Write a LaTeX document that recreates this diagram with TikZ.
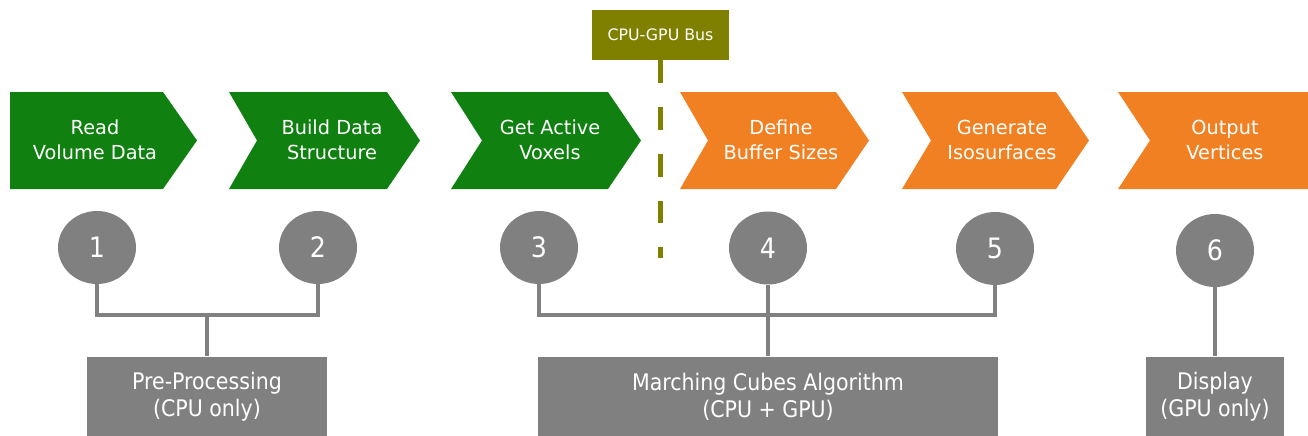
\documentclass[tikz,border=0pt]{standalone}
\usepackage{fontspec}
\setmainfont{DejaVu Sans}
\newfontfamily\condfont{DejaVu Sans Condensed}
\usepackage{xcolor}
\usetikzlibrary{shapes.geometric}

\definecolor{stepgreen}{RGB}{16,128,16}
\definecolor{steporange}{RGB}{240,128,34}
\definecolor{stepgray}{RGB}{128,128,128}
\definecolor{busolive}{RGB}{128,128,0}

\begin{document}
\begin{tikzpicture}[x=0.02cm, y=-0.02cm,
    chevtext/.style={align=center, text=white, font=\fontsize{11}{14.2}\selectfont},
    stepnum/.style={ellipse, fill=stepgray, minimum width=1.56cm, minimum height=1.46cm, inner sep=0pt, text=white, font=\condfont\fontsize{16}{18}\selectfont},
    phase/.style={fill=stepgray, align=center, inner sep=0pt, minimum height=1.6cm, text=white, font=\condfont\fontsize{13}{15.3}\selectfont},
    link/.style={stepgray, line width=2.2pt}]

\useasboundingbox (0,0) rectangle (1308,436);

% Pipeline steps (chevrons)
\fill[stepgreen] (10,92) -- (163,92) -- (197,140.5) -- (163,189) -- (10,189) -- cycle;
\fill[stepgreen] (229,92) -- (387,92) -- (420,140.5) -- (387,189) -- (229,189) -- (257,140.5) -- cycle;
\fill[stepgreen] (451,92) -- (608,92) -- (641,140.5) -- (608,189) -- (451,189) -- (482,140.5) -- cycle;
\fill[steporange] (680,92) -- (836,92) -- (869,140.5) -- (836,189) -- (680,189) -- (708,140.5) -- cycle;
\fill[steporange] (902,92) -- (1056,92) -- (1089,140.5) -- (1056,189) -- (902,189) -- (931,140.5) -- cycle;
\fill[steporange] (1118,92) -- (1308,92) -- (1308,189) -- (1118,189) -- (1150,140.5) -- cycle;

\node[chevtext] (read) at (95,140) {Read\\Volume Data};
\node[chevtext] (build) at (332,140) {Build Data\\Structure};
\node[chevtext] (active) at (550,140) {Get Active\\Voxels};
\node[chevtext] (buffer) at (781,140) {Define\\Buffer Sizes};
\node[chevtext] (iso) at (1002,140) {Generate\\Isosurfaces};
\node[chevtext] (output) at (1225,140) {Output\\Vertices};

% CPU-GPU bus marker
\node[fill=busolive, text=white, minimum width=2.74cm, minimum height=1cm, inner sep=0pt,
      font=\fontsize{9}{11}\selectfont] (bus) at (660.5,35) {CPU-GPU Bus};
\coordinate (busend) at (660.5,258);
\draw[busolive, line width=2.3pt, dash pattern=on 13pt off 13.6pt] (bus.south) -- (busend);

% Step numbers
\node[stepnum] (n1) at (97,247.5) {1};
\node[stepnum] (n2) at (318,247.5) {2};
\node[stepnum] (n3) at (539,247.5) {3};
\node[stepnum] (n4) at (768,248) {4};
\node[stepnum] (n5) at (995,248.5) {5};
\node[stepnum] (n6) at (1215,250.5) {6};

% Phases
\node[phase, minimum width=4.8cm] (pre) at (207,396.5) {Pre-Processing\\(CPU only)};
\node[phase, minimum width=9.22cm] (mc) at (768,396.5) {Marching Cubes Algorithm\\(CPU + GPU)};
\node[phase, minimum width=2.76cm] (disp) at (1215,396.5) {Display\\(GPU only)};

% Brackets
\coordinate (prej) at (207,315);
\coordinate (mcj) at (768,315);
\draw[link] (n1.south) |- (prej) -| (n2.south);
\draw[link] (prej) -- (pre.north);
\draw[link] (n3.south) |- (mcj) -| (n5.south);
\draw[link] (n4.south) -- (mc.north);
\draw[link] (n6.south) -- (disp.north);

\end{tikzpicture}
\end{document}
